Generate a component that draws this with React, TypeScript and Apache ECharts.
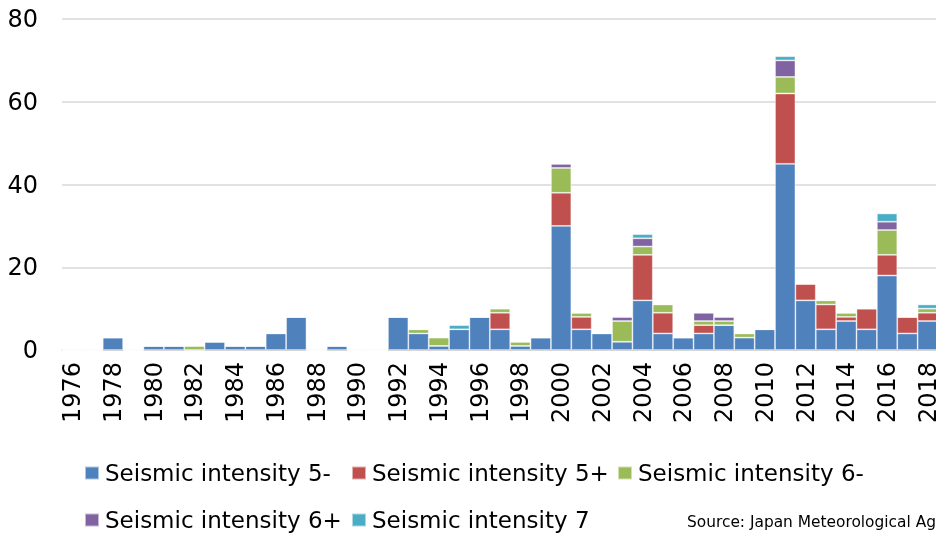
import React, { useEffect, useRef } from "react";
import * as echarts from "echarts";

const years = [
  "1976","1977","1978","1979","1980","1981","1982","1983","1984","1985",
  "1986","1987","1988","1989","1990","1991","1992","1993","1994","1995",
  "1996","1997","1998","1999","2000","2001","2002","2003","2004","2005",
  "2006","2007","2008","2009","2010","2011","2012","2013","2014","2015",
  "2016","2017","2018",
];

const int5minus = [0,0,3,0,1, 1,0,2,1,1, 4,8,0,1,0, 0,8,4,1,5, 8,5,1,3,30, 5,4,2,12,4, 3,4,6,3,5, 45,12,5,7,5, 18,4,7];
const int5plus  = [0,0,0,0,0, 0,0,0,0,0, 0,0,0,0,0, 0,0,0,0,0, 0,4,0,0,8, 3,0,0,11,5, 0,2,0,0,0, 17,4,6,1,5, 5,4,2];
const int6minus = [0,0,0,0,0, 0,1,0,0,0, 0,0,0,0,0, 0,0,1,2,0, 0,1,1,0,6, 1,0,5,2,2, 0,1,1,1,0, 4,0,1,1,0, 6,0,1];
const int6plus  = [0,0,0,0,0, 0,0,0,0,0, 0,0,0,0,0, 0,0,0,0,0, 0,0,0,0,1, 0,0,1,2,0, 0,2,1,0,0, 4,0,0,0,0, 2,0,0];
const int7      = [0,0,0,0,0, 0,0,0,0,0, 0,0,0,0,0, 0,0,0,0,1, 0,0,0,0,0, 0,0,0,1,0, 0,0,0,0,0, 1,0,0,0,0, 2,0,1];

const seriesNames = [
  "Seismic intensity 5-",
  "Seismic intensity 5+",
  "Seismic intensity 6-",
  "Seismic intensity 6+",
  "Seismic intensity 7",
];
const seriesData = [int5minus, int5plus, int6minus, int6plus, int7];
const colors = ["#4F81BD", "#C0504D", "#9BBB59", "#8064A2", "#4BACC6"];

const FONT = "DejaVu Sans";

// legend item positions (left, top) for each series
const legendLeft = [84, 351, 617, 84, 351];
const legendTop = [460, 460, 460, 507, 507];

export default function App() {
  const ref = useRef<HTMLDivElement>(null);
  useEffect(() => {
    if (!ref.current) return;
    const chart = echarts.init(ref.current, null, { renderer: "svg" });
    const legendCommon = {
      orient: "horizontal",
      padding: 0,
      itemWidth: 14,
      itemHeight: 13,
      itemGap: 0,
      icon: "rect",
      textStyle: { fontFamily: FONT, fontSize: 23, color: "#000", lineHeight: 26, padding: [0, 0, 0, 1] },
    };
    chart.setOption({
      animation: false,
      color: colors,
      grid: { left: 62, right: -2, top: 19, bottom: 183, containLabel: false, outerBoundsMode: "none" },
      legend: seriesNames.map((name, i) => ({
        ...legendCommon,
        left: legendLeft[i],
        top: legendTop[i],
        data: [name],
      })),
      xAxis: {
        type: "category",
        data: years,
        axisLine: { show: true, lineStyle: { color: "#d0d0d0", width: 1.5 } },
        axisTick: { show: false },
        axisLabel: {
          interval: 1,
          rotate: 90,
          margin: 12,
          fontFamily: FONT,
          fontSize: 24,
          color: "#000",
        },
      },
      yAxis: {
        type: "value",
        min: 0,
        max: 80,
        interval: 20,
        axisLine: { show: false },
        axisTick: { show: false },
        splitLine: { lineStyle: { color: "#d9d9d9", width: 1.5 } },
        axisLabel: { margin: 24, fontFamily: FONT, fontSize: 24, color: "#000" },
      },
      graphic: [
        {
          type: "text",
          left: 687,
          top: 514,
          style: {
            text: "Source: Japan Meteorological Agency",
            font: `15.4px "${FONT}"`,
            fill: "#000",
          },
        },
      ],
      series: seriesNames.map((name, i) => ({
        name,
        type: "bar",
        stack: "total",
        barCategoryGap: "0%",
        data: seriesData[i],
        itemStyle: { color: colors[i], borderColor: "rgba(255,255,255,0.55)", borderWidth: 0.8 },
      })),
    });
    return () => chart.dispose();
  }, []);
  return <div ref={ref} style={{ position: "fixed", left: 0, top: 0, width: 936, height: 533 }} />;
}
